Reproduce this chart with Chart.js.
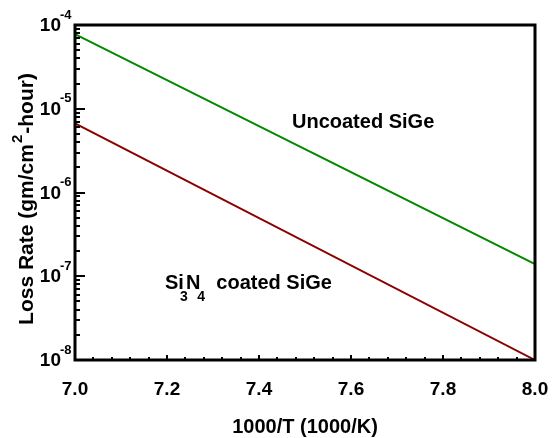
<!DOCTYPE html>
<html><head><meta charset="utf-8">
<script src="https://cdn.jsdelivr.net/npm/chart.js@4/dist/chart.umd.min.js"></script>
<style>html,body{margin:0;padding:0;background:#fff}#wrap{width:552px;height:438px}</style>
</head><body><div id="wrap"><canvas id="c" width="552" height="438"></canvas></div>
<script>
// ---- data ----
const invT = [7.0, 8.0];
const uncoatedRate = [7.8e-5, 1.4e-7];
const coatedRate = [6.7e-6, 1.0e-8];
const xTickValues = [7.0, 7.2, 7.4, 7.6, 7.8, 8.0];
const yTickExponents = [-4, -5, -6, -7, -8];
const xTitle = '1000/T (1000/K)';
const yTitleParts = ['Loss Rate (gm/cm', '2', '-hour)'];
const uncoatedLabel = 'Uncoated SiGe';
const coatedLabelParts = ['Si', '3', 'N', '4', 'coated SiGe'];

const FONT = '"Liberation Sans", Arial, sans-serif';

const drawPlugin = {
  id: 'decor',
  afterDatasetsDraw(chart) {
    const ctx = chart.ctx;
    const xs = chart.scales.x, ys = chart.scales.y;
    const a = chart.chartArea;
    ctx.save();
    ctx.strokeStyle = '#000';
    ctx.fillStyle = '#000';
    // ticks on x (inward)
    ctx.lineWidth = 2;
    for (let i = 0; i <= 25; i++) {
      const v = 7 + i * 0.04;
      const px = Math.round(xs.getPixelForValue(v));
      const major = i % 5 === 0;
      ctx.beginPath();
      ctx.moveTo(px, a.bottom);
      ctx.lineTo(px, a.bottom - (major ? 5 : 3));
      ctx.stroke();
    }
    // ticks on y (inward)
    for (let e = -8; e <= -4; e++) {
      for (let m = 1; m <= 9; m++) {
        const v = m * Math.pow(10, e);
        if (v > 1e-4 * 1.0001) break;
        const py = Math.round(ys.getPixelForValue(v));
        ctx.beginPath();
        ctx.moveTo(a.left, py);
        ctx.lineTo(a.left + (m === 1 ? 10 : 5), py);
        ctx.stroke();
      }
    }
    // frame
    ctx.lineWidth = 3;
    ctx.strokeRect(a.left, a.top, a.right - a.left, a.bottom - a.top);

    // x tick labels
    ctx.font = 'bold 19px ' + FONT;
    ctx.textAlign = 'center';
    ctx.textBaseline = 'middle';
    xTickValues.forEach(v => {
      ctx.fillText(v.toFixed(1), xs.getPixelForValue(v), 390);
    });
    // y tick labels 10^n
    yTickExponents.forEach(e => {
      const py = ys.getPixelForValue(Math.pow(10, e));
      ctx.font = 'bold 19px ' + FONT;
      ctx.textAlign = 'right';
      ctx.textBaseline = 'middle';
      ctx.fillText('10', 61, py + 1);
      ctx.font = 'bold 13px ' + FONT;
      ctx.textAlign = 'left';
      ctx.fillText(String(e), 60, py - 10);
    });
    // x title
    ctx.font = 'bold 20px ' + FONT;
    ctx.textAlign = 'center';
    ctx.textBaseline = 'middle';
    ctx.fillText(xTitle, (a.left + a.right) / 2, 427);
    // y title (rotated, with superscript 2)
    ctx.save();
    ctx.translate(27, 199);
    ctx.rotate(-Math.PI / 2);
    const bigF = 'bold 21px ' + FONT, supF = 'bold 15px ' + FONT;
    ctx.font = bigF;
    const w0 = ctx.measureText(yTitleParts[0]).width;
    const w2 = ctx.measureText(yTitleParts[2]).width;
    ctx.font = supF;
    const w1 = ctx.measureText(yTitleParts[1]).width;
    const total = w0 + w1 + 2 + w2;
    let tx = -total / 2;
    ctx.textAlign = 'left';
    ctx.font = bigF;
    ctx.fillText(yTitleParts[0], tx, 0);
    tx += w0 + 1;
    ctx.font = supF;
    ctx.fillText(yTitleParts[1], tx, -9);
    tx += w1 + 1;
    ctx.font = bigF;
    ctx.fillText(yTitleParts[2], tx, 0);
    ctx.restore();
    // annotations
    ctx.textAlign = 'left';
    ctx.textBaseline = 'middle';
    ctx.font = 'bold 20px ' + FONT;
    ctx.fillText(uncoatedLabel, 292, 122);
    let x = 165;
    const yb = 283;
    ctx.fillText(coatedLabelParts[0], x, yb);
    x += ctx.measureText(coatedLabelParts[0]).width;
    ctx.font = 'bold 14px ' + FONT;
    ctx.fillText(coatedLabelParts[1], x - 4, yb + 14);
    ctx.font = 'bold 20px ' + FONT;
    x += 2;
    ctx.fillText(coatedLabelParts[2], x, yb);
    x += ctx.measureText(coatedLabelParts[2]).width;
    ctx.font = 'bold 14px ' + FONT;
    ctx.fillText(coatedLabelParts[3], x - 3, yb + 14);
    ctx.font = 'bold 20px ' + FONT;
    ctx.fillText(coatedLabelParts[4], x + 16, yb);
    ctx.restore();
  }
};

new Chart(document.getElementById('c'), {
  type: 'line',
  data: {
    datasets: [
      { label: uncoatedLabel, data: invT.map((t, i) => ({ x: t, y: uncoatedRate[i] })),
        borderColor: '#008a00', borderWidth: 2, pointRadius: 0, fill: false, tension: 0 },
      { label: 'Si3N4 coated SiGe', data: invT.map((t, i) => ({ x: t, y: coatedRate[i] })),
        borderColor: '#8b0000', borderWidth: 2, pointRadius: 0, fill: false, tension: 0 }
    ]
  },
  options: {
    responsive: false,
    animation: false,
    devicePixelRatio: 1,
    layout: { padding: { left: 75, right: 17, top: 25, bottom: 78 } },
    plugins: { legend: { display: false }, tooltip: { enabled: false } },
    scales: {
      x: { type: 'linear', min: 7, max: 8, display: false },
      y: { type: 'logarithmic', min: 1e-8, max: 1e-4, display: false }
    }
  },
  plugins: [drawPlugin]
});
</script></body></html>
